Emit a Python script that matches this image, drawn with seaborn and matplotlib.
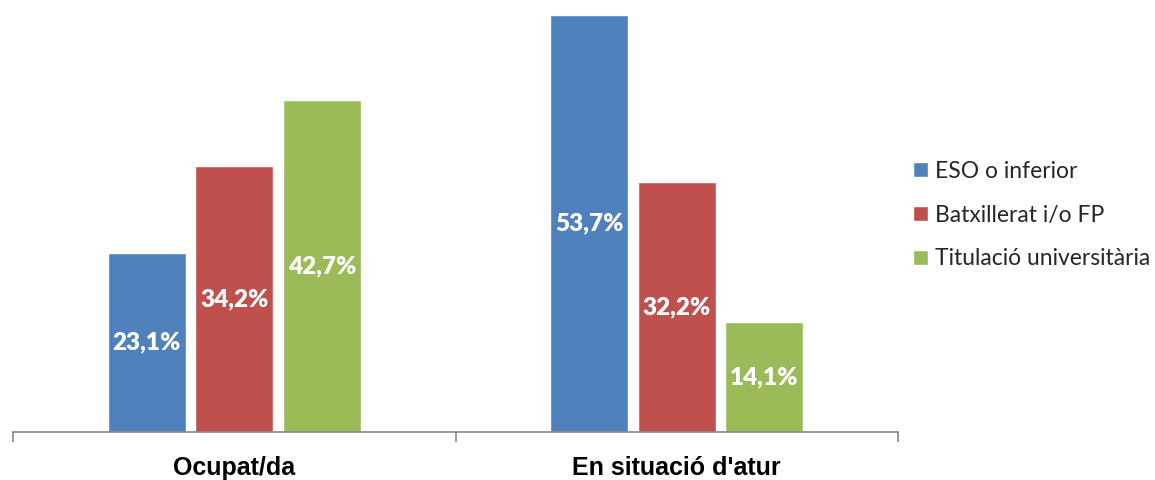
import matplotlib
matplotlib.use("Agg")
import matplotlib.pyplot as plt
from matplotlib.ticker import FixedLocator
import seaborn as sns
import pandas as pd

# dades del gràfic
situacions = ["Ocupat/da", "En situació d'atur"]
nivells = ["ESO o inferior", "Batxillerat i/o FP", "Titulació universitària"]
eso = [23.1, 53.7]
batx = [34.2, 32.2]
univ = [42.7, 14.1]
colors = ["#4F81BD", "#C0504D", "#9BBB59"]

rows = []
for nivell, vals in zip(nivells, [eso, batx, univ]):
    for sit, v in zip(situacions, vals):
        rows.append({"situacio": sit, "nivell": nivell, "pct": v})
df = pd.DataFrame(rows)

sns.set_theme(style="white")
plt.rcParams["font.family"] = ["Lato", "DejaVu Sans"]

fig = plt.figure(figsize=(11.55, 4.8), dpi=100)
ax = fig.add_axes([13 / 1155, 48 / 480, 885 / 1155, 432 / 480])

sns.barplot(data=df, x="situacio", y="pct", hue="nivell", order=situacions,
            hue_order=nivells, palette=colors, width=0.594, gap=0.11,
            saturation=1, ax=ax, legend=True)

ax.set_xlim(-0.5, 1.5)
ax.set_ylim(0, 55.6)

# etiquetes de valor dins de les barres
for cont in ax.containers:
    labels = [f"{v:.1f}%".replace(".", ",") for v in cont.datavalues]
    ax.bar_label(cont, labels=labels, label_type="center", color="white",
                 fontsize=17.5, fontweight="heavy")

for s in ["top", "right", "left"]:
    ax.spines[s].set_visible(False)
ax.spines["bottom"].set_color("#868686")
ax.spines["bottom"].set_linewidth(1.2)

ax.set_yticks([])
ax.set_xlabel("")
ax.set_ylabel("")
ax.tick_params(axis="x", which="major", length=0, pad=17)
ax.xaxis.set_minor_locator(FixedLocator([-0.5, 0.5, 1.5]))
ax.tick_params(axis="x", which="minor", length=7, width=1.2, color="#868686",
               direction="out", bottom=True)
for lbl in ax.get_xticklabels():
    lbl.set_family(["Liberation Sans Narrow", "Liberation Sans", "DejaVu Sans"])
    lbl.set_fontweight("bold")
    lbl.set_fontsize(18)
    lbl.set_color("black")

handles, labs = ax.get_legend_handles_labels()
ax.legend(handles, labs, loc="center left", bbox_to_anchor=(904 / 1155, 1 - 215 / 480),
          bbox_transform=fig.transFigure, frameon=False, fontsize=16.5,
          handlelength=0.65, handleheight=0.65, handletextpad=0.3,
          labelspacing=1.0, borderaxespad=0)

fig.savefig("out.png", dpi=100)
